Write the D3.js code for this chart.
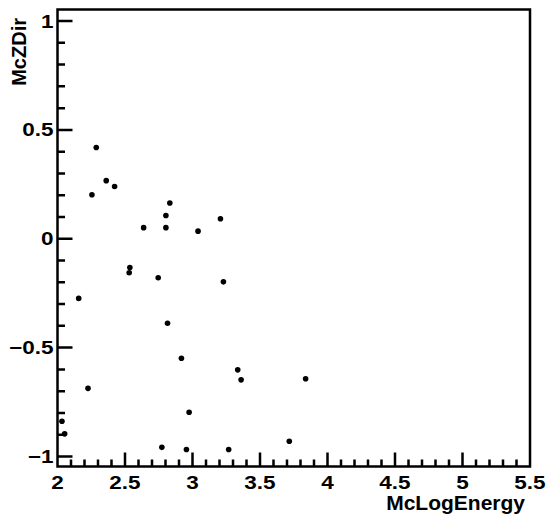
<!DOCTYPE html>
<html>
<head>
<meta charset="utf-8">
<script src="https://cdn.jsdelivr.net/npm/d3@7"></script>
<style>
  body { margin: 0; background: #fff; }
  svg text { font-family: "Liberation Sans", Arial, Helvetica, sans-serif; font-weight: bold; fill: #000; }
</style>
</head>
<body>
<div class="chart"></div>
<script>
// McLogEnergy vs McZDir
const mcLogEnergy = [2.287, 2.361, 2.423, 2.255, 2.832, 2.803, 3.207, 2.638, 2.803, 3.041,
  2.536, 2.531, 2.746, 3.229, 2.157, 2.815, 2.918, 3.335, 3.360, 3.838,
  2.226, 2.975, 2.033, 2.053, 3.717, 2.773, 2.955, 3.268]
const mcZDir = [0.419, 0.267, 0.240, 0.202, 0.164, 0.107, 0.092, 0.051, 0.051, 0.035,
  -0.132, -0.156, -0.179, -0.198, -0.274, -0.388, -0.549, -0.602, -0.648, -0.643,
  -0.687, -0.797, -0.838, -0.896, -0.930, -0.958, -0.968, -0.968]
const xTicks = [2, 2.5, 3, 3.5, 4, 4.5, 5, 5.5]
const yTicks = [-1, -0.5, 0, 0.5, 1]

const W = 546, H = 518
const frame = { left: 57.5, right: 530, top: 9.5, bottom: 466.5 }

const svg = d3.select('.chart')
  .append('svg')
    .attr('width', W)
    .attr('height', H)

const x = d3.scaleLinear()
  .domain([2, 5.5])
  .range([frame.left, frame.right])
const y = d3.scaleLinear()
  .domain([-1.046, 1.053])
  .range([frame.bottom, frame.top])

// minor ticks every 0.1, major every 0.5 (ROOT style, pointing inside)
const xMinor = d3.range(20, 56).map(d => d / 10)
const yMinor = d3.range(-10, 11).map(d => d / 10)
const isMajor = v => Math.abs(v * 2 - Math.round(v * 2)) < 1e-6

// frame and ticks in one path
const p = d3.path()
p.rect(frame.left, frame.top, frame.right - frame.left, frame.bottom - frame.top)
xMinor.forEach(d => {
  p.moveTo(x(d), frame.bottom)
  p.lineTo(x(d), frame.bottom - (isMajor(d) ? 14 : 7))
})
yMinor.forEach(d => {
  p.moveTo(frame.left, y(d))
  p.lineTo(frame.left + (isMajor(d) ? 15 : 7.5), y(d))
})
svg.append('path')
  .attr('d', p.toString())
  .attr('fill', 'none')
  .attr('stroke', '#000')
  .attr('stroke-width', 2.5)

// tick labels, a bit stretched sideways like the original
svg.append('g')
  .selectAll('text')
  .data(xTicks)
  .join('text')
    .attr('transform', d => `translate(${x(d)}, 489) scale(1.25,1)`)
    .attr('text-anchor', 'middle')
    .style('font-size', '18px')
    .text(d => d3.format('')(d))

svg.append('g')
  .selectAll('text')
  .data(yTicks)
  .join('text')
    .attr('transform', d => `translate(53.5, ${y(d)}) scale(1.25,1)`)
    .attr('dy', '0.36em')
    .attr('text-anchor', 'end')
    .style('font-size', '18px')
    .text(d => d3.format('')(d))

// points
svg.append('g')
  .selectAll('circle')
  .data(mcLogEnergy.map((e, i) => [e, mcZDir[i]]))
  .join('circle')
    .attr('cx', d => x(d[0]))
    .attr('cy', d => y(d[1]))
    .attr('r', 2.8)
    .attr('fill', '#000')

// axis titles
svg.append('text')
  .attr('x', 525)
  .attr('y', 510)
  .attr('text-anchor', 'end')
  .style('font-size', '21px')
  .text('McLogEnergy')

svg.append('text')
  .attr('transform', 'translate(26, 18) rotate(-90)')
  .attr('text-anchor', 'end')
  .style('font-size', '20px')
  .text('McZDir')
</script>
</body>
</html>
